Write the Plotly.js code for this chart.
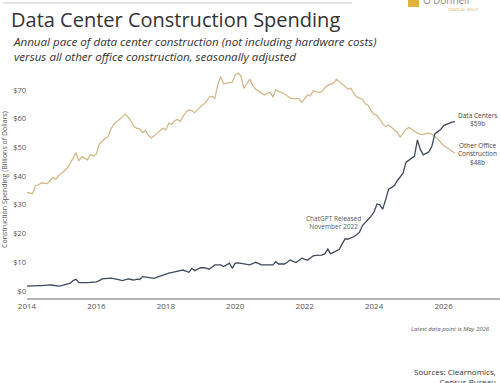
<!DOCTYPE html>
<html>
<head>
<meta charset="utf-8">
<script src="https://cdn.plot.ly/plotly-3.0.1.min.js"></script>
<style>
  html, body { margin: 0; padding: 0; background: #fff; }
  #chart { width: 500px; height: 383px; }
</style>
</head>
<body>
<div id="chart"></div>
<script>
// Monthly series, January 2014 through May 2026 (billions of dollars, annual pace, SA)
const startYear = 2014;
const startMonth = 1;

const dataCenters = [
  // 2014
  1.7, 1.8, 1.8, 1.8, 1.9, 1.9, 2.0, 2.0, 2.1, 2.0, 1.9, 1.7,
  // 2015
  1.9, 2.1, 2.4, 2.7, 3.6, 4.1, 2.9, 2.8, 2.9, 2.9, 3.0, 3.1,
  // 2016
  3.2, 3.6, 4.2, 4.3, 4.4, 4.5, 4.3, 4.2, 3.9, 3.6, 3.9, 4.2,
  // 2017
  4.0, 3.8, 4.1, 4.0, 5.0, 4.8, 4.6, 4.5, 4.4, 4.8, 5.2, 5.6,
  // 2018
  6.0, 6.2, 6.4, 6.7, 6.9, 7.1, 7.3, 6.9, 6.5, 7.9, 7.1, 7.6,
  // 2019
  8.1, 8.1, 8.0, 7.6, 8.3, 9.1, 9.1, 9.1, 8.5, 9.2, 9.7, 7.9,
  // 2020
  9.7, 9.8, 9.6, 9.3, 9.1, 9.1, 9.5, 10.0, 9.6, 9.1, 9.1, 9.1,
  // 2021
  9.1, 9.1, 10.2, 9.4, 9.4, 9.4, 10.0, 10.8, 10.3, 9.9, 10.6, 11.4,
  // 2022
  11.0, 10.8, 11.5, 12.2, 12.4, 12.4, 12.5, 13.0, 14.6, 12.9, 13.5, 14.0,
  // 2023
  14.5, 16.5, 18.1, 18.1, 18.4, 18.9, 19.6, 20.5, 22.8, 23.8, 24.7, 26.0,
  // 2024
  27.6, 30.3, 30.0, 28.5, 31.7, 35.4, 36.0, 36.7, 38.4, 39.6, 41.0, 44.8,
  // 2025
  45.5, 46.2, 47.0, 52.6, 49.4, 47.4, 47.9, 48.5, 50.5, 54.7, 55.5, 56.2,
  // 2026
  57.6, 58.1, 58.5, 58.8, 59.0
];

const otherOffice = [
  // 2014
  34.3, 34.1, 33.9, 36.8, 36.9, 37.7, 37.6, 37.4, 38.5, 39.6, 38.9, 40.2,
  // 2015
  41.0, 41.9, 42.8, 44.5, 46.5, 48.2, 45.3, 46.8, 46.2, 45.7, 47.6, 47.0,
  // 2016
  47.7, 51.2, 52.0, 53.2, 53.6, 56.3, 58.0, 59.0, 59.8, 60.6, 61.6, 60.5,
  // 2017
  59.2, 57.3, 56.6, 56.5, 55.2, 55.9, 54.2, 53.4, 54.0, 54.9, 55.8, 56.7,
  // 2018
  56.1, 58.4, 58.1, 59.2, 59.8, 59.0, 60.8, 62.3, 63.1, 62.8, 62.1, 63.2,
  // 2019
  64.2, 65.0, 65.8, 67.5, 67.8, 67.1, 71.8, 74.5, 72.1, 72.4, 72.6, 72.7,
  // 2020
  75.3, 75.9, 74.9, 70.6, 72.0, 73.8, 71.8, 70.3, 69.6, 68.8, 68.3, 68.8,
  // 2021
  69.2, 67.5, 70.0, 69.5, 69.2, 68.7, 68.0, 67.1, 67.0, 67.1, 67.0, 65.7,
  // 2022
  67.2, 68.3, 67.9, 69.7, 69.4, 69.2, 69.4, 70.8, 71.6, 72.1, 72.4, 73.8,
  // 2023
  72.8, 71.9, 71.2, 70.3, 70.6, 68.9, 67.6, 67.2, 66.8, 65.2, 64.6, 62.8,
  // 2024
  61.5, 61.2, 59.6, 58.2, 57.3, 57.8, 57.0, 56.2, 55.2, 53.6, 54.8, 56.2,
  // 2025
  57.0, 56.2, 55.6, 55.0, 54.6, 54.5, 54.8, 55.0, 54.6, 53.9, 52.9, 51.8,
  // 2026
  50.6, 50.0, 49.4, 48.9, 48.0
];

const yTickValues = [0, 10, 20, 30, 40, 50, 60, 70];
const yTickLabels = ['$0', '$10', '$20', '$30', '$40', '$50', '$60', '$70'];
const xTickValues = ['2014-01-01', '2016-01-01', '2018-01-01', '2020-01-01', '2022-01-01', '2024-01-01', '2026-01-01'];
const xTickLabels = ['2014', '2016', '2018', '2020', '2022', '2024', '2026'];

// Month stamps for each observation
function monthDates(n) {
  const out = [];
  for (let i = 0; i < n; i++) {
    const y = startYear + Math.floor((startMonth - 1 + i) / 12);
    const m = ((startMonth - 1 + i) % 12) + 1;
    out.push(y + '-' + String(m).padStart(2, '0') + '-01');
  }
  return out;
}
const dates = monthDates(dataCenters.length);

const lastDC = dataCenters[dataCenters.length - 1];
const lastOffice = otherOffice[otherOffice.length - 1];

const COLOR_DC = '#3f4a5a';
const COLOR_OFFICE = '#d4b98c';
const FONT = 'Open Sans, Lato, sans-serif';

// Plot-area geometry (pixels) used to place page furniture in paper units
const M = { l: 27, r: 0, t: 61, b: 85 };
const PW = 500 - M.l - M.r;
const PH = 383 - M.t - M.b;
const px = v => (v - M.l) / PW;
const py = v => (383 - M.b - v) / PH;

const traces = [
  {
    x: dates, y: otherOffice, type: 'scatter', mode: 'lines',
    line: { color: COLOR_OFFICE, width: 1.3 }, hoverinfo: 'skip', name: 'Other Office Construction'
  },
  {
    x: dates, y: dataCenters, type: 'scatter', mode: 'lines',
    line: { color: COLOR_DC, width: 1.3 }, hoverinfo: 'skip', name: 'Data Centers'
  }
];

const layout = {
  width: 500, height: 383,
  margin: M,
  paper_bgcolor: '#ffffff', plot_bgcolor: '#ffffff',
  showlegend: false,
  font: { family: FONT, color: '#444' },
  title: {
    text: 'Data Center Construction Spending',
    font: { family: FONT, size: 20, color: '#333' },
    xref: 'container', yref: 'container',
    x: 11 / 500, xanchor: 'left',
    y: 1 - 20 / 383, yanchor: 'middle'
  },
  xaxis: {
    type: 'date',
    range: ['2014-01-01', '2027-08-18'],
    tickvals: xTickValues, ticktext: xTickLabels,
    showgrid: false, zeroline: false,
    showline: true, linecolor: '#b5b5b5', linewidth: 1.5,
    ticks: '',
    tickfont: { family: FONT, size: 8, color: '#555' }
  },
  yaxis: {
    range: [-2.44, 80.1],
    tickvals: yTickValues, ticktext: yTickLabels,
    showgrid: false, zeroline: false, showline: false,
    ticks: '',
    tickfont: { family: FONT, size: 7.5, color: '#555' },
    title: {
      text: 'Construction Spending (Billions of Dollars)',
      font: { family: FONT, size: 7, color: '#555' },
      standoff: 4
    }
  },
  shapes: [
    // thin rule across the header
    { type: 'line', xref: 'paper', yref: 'paper', x0: px(3), x1: px(352), y0: py(3), y1: py(3),
      line: { color: '#c8c8c8', width: 1 } },
    // brand mark
    { type: 'rect', xref: 'paper', yref: 'paper', x0: px(408), x1: px(419), y0: py(7), y1: py(-5),
      fillcolor: '#e2b33c', line: { width: 0 } }
  ],
  annotations: [
    {
      xref: 'paper', yref: 'paper', x: px(11), y: py(48.5), xanchor: 'left', yanchor: 'middle',
      text: '<i>Annual pace of data center construction (not including hardware costs)<br>versus all other office construction, seasonally adjusted</i>',
      align: 'left', showarrow: false,
      font: { family: FONT, size: 11.6, color: '#333' }
    },
    {
      xref: 'paper', yref: 'paper', x: px(421), y: py(0), xanchor: 'left', yanchor: 'middle',
      text: "O'Donnell", showarrow: false,
      font: { family: FONT, size: 10, color: '#8a8a8a' }
    },
    {
      xref: 'paper', yref: 'paper', x: px(463), y: py(9.5), xanchor: 'center', yanchor: 'middle',
      text: 'FINANCIAL GROUP', showarrow: false,
      font: { family: FONT, size: 3.5, color: '#d9b860' }
    },
    {
      x: '2026-12-20', y: lastDC + 0.8, xanchor: 'center', yanchor: 'middle',
      text: 'Data Centers<br>$' + Math.round(lastDC) + 'b', showarrow: false, align: 'center',
      font: { family: FONT, size: 6.5, color: '#444' }
    },
    {
      x: '2026-12-20', y: lastOffice - 0.4, xanchor: 'center', yanchor: 'middle',
      text: 'Other Office<br>Construction<br>$' + Math.round(lastOffice) + 'b', showarrow: false, align: 'center',
      font: { family: FONT, size: 6.5, color: '#444' }
    },
    {
      x: '2022-11-01', y: 24, xanchor: 'center', yanchor: 'middle',
      text: 'ChatGPT Released<br>November 2022', showarrow: false, align: 'center',
      font: { family: FONT, size: 6.5, color: '#555' }
    },
    {
      xref: 'paper', yref: 'paper', x: px(492), y: py(329), xanchor: 'right', yanchor: 'middle',
      text: '<i>Latest data point is May 2026</i>', showarrow: false,
      font: { family: FONT, size: 6, color: '#555' }
    },
    {
      xref: 'paper', yref: 'paper', x: px(498), y: py(376), xanchor: 'right', yanchor: 'middle',
      text: 'Sources: Clearnomics,<br>Census Bureau', showarrow: false, align: 'right',
      font: { family: FONT, size: 8, color: '#333' }
    }
  ]
};

Plotly.newPlot('chart', traces, layout, { displayModeBar: false, staticPlot: true });
</script>
</body>
</html>
